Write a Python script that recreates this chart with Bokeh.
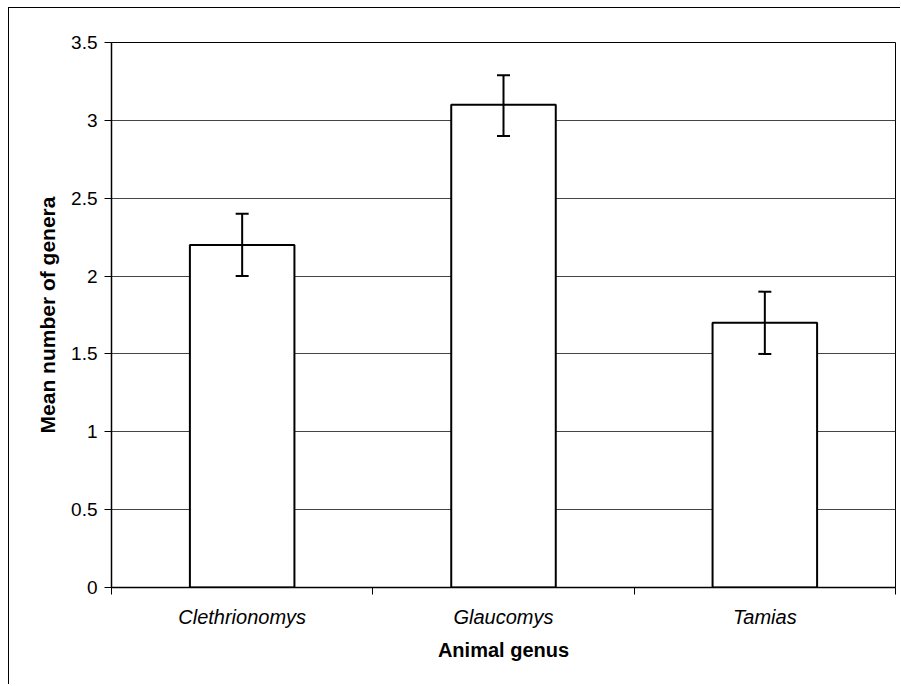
from bokeh.plotting import figure
from bokeh.models import (ColumnDataSource, FixedTicker, Whisker, TeeHead,
                          CustomJSTickFormatter, Range1d)
from bokeh.embed import file_html
from bokeh.resources import INLINE

# ---- data ----
categories = ["Clethrionomys", "Glaucomys", "Tamias"]
means = [2.2, 3.1, 1.7]
err_low = [2.0, 2.9, 1.5]
err_high = [2.4, 3.29, 1.9]
y_ticks = [0, 0.5, 1, 1.5, 2, 2.5, 3, 3.5]
x_title = "Animal genus"
y_title = "Mean number of genera"

xpos = [i + 0.5 for i in range(len(categories))]
bounds = list(range(len(categories) + 1))

src = ColumnDataSource(dict(x=xpos, mean=means, lo=err_low, hi=err_high, cat=categories))

FONT = "Liberation Sans"

p = figure(width=892, height=677,
           x_range=Range1d(0, len(categories)), y_range=Range1d(0, 3.5),
           output_backend="svg", toolbar_location=None,
           min_border_left=102, min_border_top=34, min_border_right=6,
           min_border_bottom=98)
p.styles = {"margin-left": "8px", "margin-top": "7px",
            "border-left": "1px solid #000", "border-top": "1px solid #000"}

p.background_fill_color = "white"
p.border_fill_color = "white"
p.outline_line_color = "black"
p.outline_line_width = 1

p.vbar(x="x", top="mean", width=0.4, bottom=0, source=src,
       fill_color="white", line_color="black", line_width=2)

w = Whisker(base="x", lower="lo", upper="hi", source=src,
            line_color="black", line_width=2, level="overlay",
            upper_head=TeeHead(size=13, line_color="black", line_width=2),
            lower_head=TeeHead(size=13, line_color="black", line_width=2))
p.add_layout(w)

# x axis
p.xaxis.ticker = FixedTicker(ticks=xpos, minor_ticks=bounds)
p.xaxis.formatter = CustomJSTickFormatter(args=dict(labels=categories),
                                          code="return labels[Math.floor(tick)];")
p.xaxis.major_tick_out = 0
p.xaxis.major_tick_in = 0
p.xaxis.minor_tick_out = 7
p.xaxis.minor_tick_in = 0
p.xaxis.minor_tick_line_color = "black"
p.xaxis.major_label_standoff = 11
p.xaxis.major_label_text_font = FONT
p.xaxis.major_label_text_font_style = "italic"
p.xaxis.major_label_text_font_size = "20px"
p.xaxis.major_label_text_color = "black"
p.xaxis.axis_label = x_title
p.xaxis.axis_label_text_font = FONT
p.xaxis.axis_label_text_font_style = "bold"
p.xaxis.axis_label_text_font_size = "20px"
p.xaxis.axis_label_text_color = "black"
p.xaxis.axis_label_standoff = 8
p.xaxis.axis_line_color = "black"
p.xaxis.axis_line_width = 1.5

# y axis
p.yaxis.ticker = FixedTicker(ticks=y_ticks, minor_ticks=[])
p.yaxis.formatter = CustomJSTickFormatter(code="return tick.toString();")
p.yaxis.major_tick_out = 7
p.yaxis.major_tick_in = 0
p.yaxis.major_tick_line_color = "black"
p.yaxis.major_label_standoff = 7
p.yaxis.major_label_text_font = FONT
p.yaxis.major_label_text_font_size = "19px"
p.yaxis.major_label_text_color = "black"
p.yaxis.axis_label = y_title
p.yaxis.axis_label_text_font = FONT
p.yaxis.axis_label_text_font_style = "bold"
p.yaxis.axis_label_text_font_size = "21px"
p.yaxis.axis_label_text_color = "black"
p.yaxis.axis_label_standoff = 9
p.yaxis.axis_line_color = "black"
p.yaxis.axis_line_width = 1.5

p.xgrid.grid_line_color = None
p.ygrid.ticker = FixedTicker(ticks=y_ticks)
p.ygrid.grid_line_color = "#444444"
p.ygrid.grid_line_width = 1

open("out.html", "w").write(file_html(p, INLINE))
